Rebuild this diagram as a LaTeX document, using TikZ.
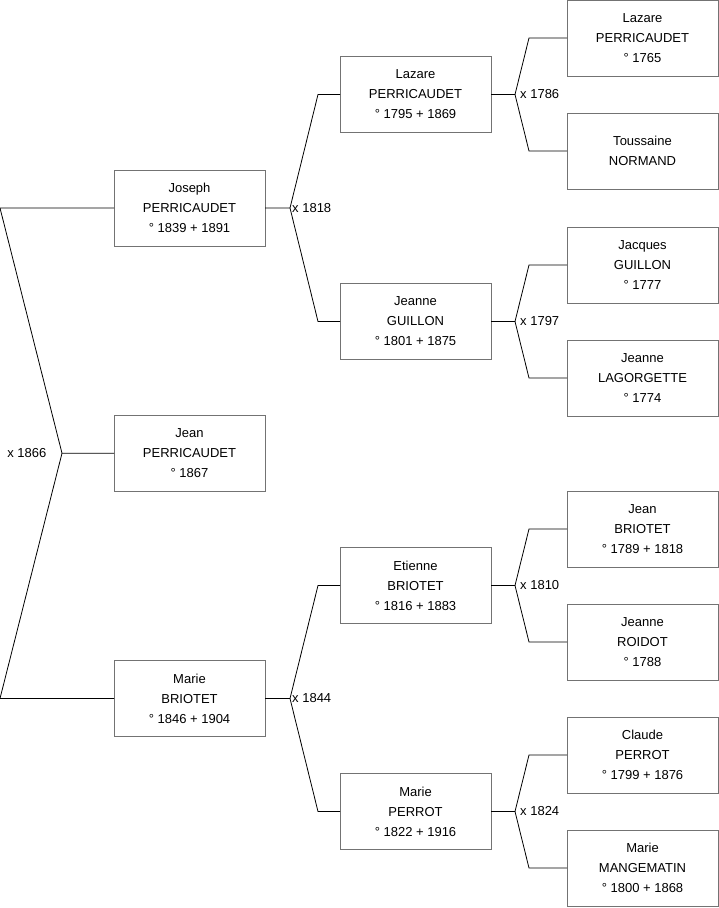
\documentclass[tikz,border=0pt]{standalone}
\usepackage{fontspec}
\setmainfont{Liberation Sans}
\usetikzlibrary{positioning, calc}
\definecolor{boxgray}{gray}{0.45}

\begin{document}
\begin{tikzpicture}[
    x=1pt, y=1pt,
    node distance=37pt and 76pt,
    person/.style = {rectangle, draw=boxgray, line width=0.8pt, align=center, minimum width=151pt, minimum height=76pt, inner sep=0pt, outer sep=0pt, font=\fontsize{13pt}{20pt}\selectfont},
    wedding/.style = {font=\fontsize{13pt}{15pt}\selectfont, inner sep=1.5pt},
    link/.style = {draw, line width=0.8pt}]

    \useasboundingbox (0,0) rectangle (719,908);

    % great-grandparents
    \node[person] (lazareA) at (642.5,870) {Lazare\\PERRICAUDET\\° 1765};
    \node[person, below=of lazareA] (toussaine) {Toussaine\\NORMAND};
    \node[person, below=38pt of toussaine] (jacques) {Jacques\\GUILLON\\° 1777};
    \node[person, below=of jacques] (jeanneL) {Jeanne\\LAGORGETTE\\° 1774};
    \node[person, below=75pt of jeanneL] (jeanB) {Jean\\BRIOTET\\° 1789 + 1818};
    \node[person, below=of jeanB] (jeanneR) {Jeanne\\ROIDOT\\° 1788};
    \node[person, below=of jeanneR] (claude) {Claude\\PERROT\\° 1799 + 1876};
    \node[person, below=of claude] (marieM) {Marie\\MANGEMATIN\\° 1800 + 1868};

    % grandparents
    \node[person] (lazareB) at ($(lazareA)!0.5!(toussaine)+(-227,0)$) {Lazare\\PERRICAUDET\\° 1795 + 1869};
    \node[person] (jeanneG) at ($(jacques)!0.5!(jeanneL)+(-227,0)$) {Jeanne\\GUILLON\\° 1801 + 1875};
    \node[person] (etienne) at ($(jeanB)!0.5!(jeanneR)+(-227,0)$) {Etienne\\BRIOTET\\° 1816 + 1883};
    \node[person] (marieP) at ($(claude)!0.5!(marieM)+(-227,0)$) {Marie\\PERROT\\° 1822 + 1916};

    % parents and child
    \node[person] (joseph) at ($(lazareB)!0.5!(jeanneG)+(-226,0)$) {Joseph\\PERRICAUDET\\° 1839 + 1891};
    \node[person] (marieB) at ($(etienne)!0.5!(marieP)+(-226,0)$) {Marie\\BRIOTET\\° 1846 + 1904};
    \node[person] (jean) at ($(joseph)!0.5!(marieB)$) {Jean\\PERRICAUDET\\° 1867};

    % marriages, right column
    \coordinate[right=24pt of lazareB.east] (m1786);
    \draw[link] (lazareB) -- (m1786) -- ([xshift=-38pt]lazareA.west) -- (lazareA);
    \draw[link] (m1786) -- ([xshift=-38pt]toussaine.west) -- (toussaine);
    \node[wedding, right=3.5pt of m1786] {x 1786};

    \coordinate[right=24pt of jeanneG.east] (m1797);
    \draw[link] (jeanneG) -- (m1797) -- ([xshift=-38pt]jacques.west) -- (jacques);
    \draw[link] (m1797) -- ([xshift=-38pt]jeanneL.west) -- (jeanneL);
    \node[wedding, right=3.5pt of m1797] {x 1797};

    \coordinate[right=24pt of etienne.east] (m1810);
    \draw[link] (etienne) -- (m1810) -- ([xshift=-38pt]jeanB.west) -- (jeanB);
    \draw[link] (m1810) -- ([xshift=-38pt]jeanneR.west) -- (jeanneR);
    \node[wedding, right=3.5pt of m1810] {x 1810};

    \coordinate[right=24pt of marieP.east] (m1824);
    \draw[link] (marieP) -- (m1824) -- ([xshift=-38pt]claude.west) -- (claude);
    \draw[link] (m1824) -- ([xshift=-38pt]marieM.west) -- (marieM);
    \node[wedding, right=3.5pt of m1824] {x 1824};

    % marriages, middle column
    \coordinate[right=25pt of joseph.east] (m1818);
    \draw[link] (joseph) -- (m1818) -- ([xshift=-22pt]lazareB.west) -- (lazareB);
    \draw[link] (m1818) -- ([xshift=-22pt]jeanneG.west) -- (jeanneG);
    \node[wedding, right=0.5pt of m1818] {x 1818};

    \coordinate[right=25pt of marieB.east] (m1844);
    \draw[link] (marieB) -- (m1844) -- ([xshift=-22pt]etienne.west) -- (etienne);
    \draw[link] (m1844) -- ([xshift=-22pt]marieP.west) -- (marieP);
    \node[wedding, right=0.5pt of m1844] {x 1844};

    % marriage of the parents
    \coordinate[left=52pt of jean.west] (m1866);
    \draw[link] (jean) -- (m1866) -- ([xshift=-114pt]joseph.west) -- (joseph);
    \draw[link] (m1866) -- ([xshift=-114pt]marieB.west) -- (marieB);
    \node[wedding, left=14pt of m1866] {x 1866};
\end{tikzpicture}
\end{document}
